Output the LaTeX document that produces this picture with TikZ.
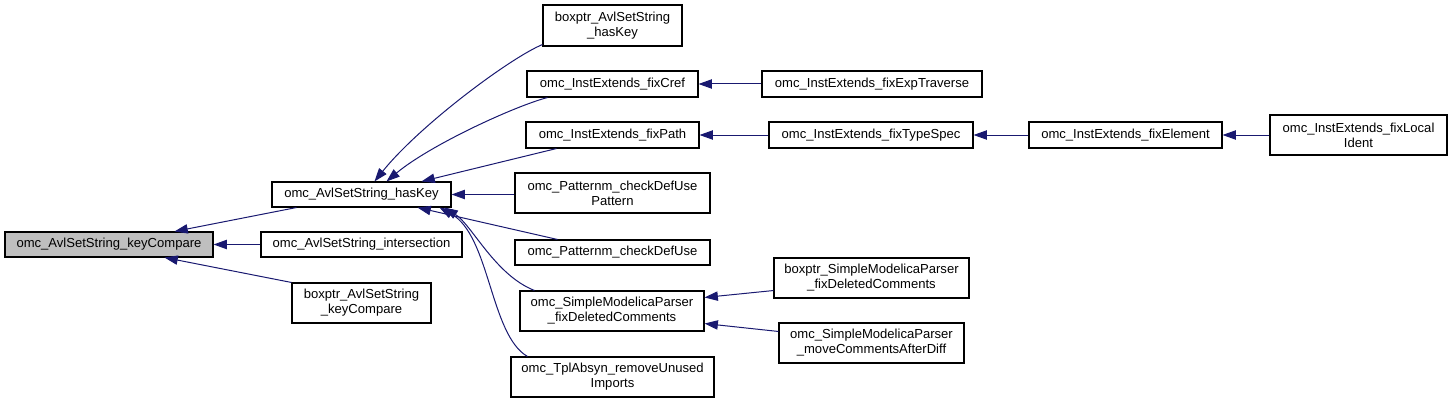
\documentclass[tikz,border=0pt]{standalone}
\usepackage{fontspec}
\setmainfont{Liberation Sans}
\usetikzlibrary{arrows.meta,calc}
\definecolor{edgeblue}{HTML}{191970}
\definecolor{selgray}{HTML}{BFBFBF}
\tikzset{
  x=0.75pt, y=-0.75pt,
  nd/.style={draw=black, line width=0.8pt, fill=white, inner sep=0pt, align=center,
    font=\fontsize{9.8}{11.25}\selectfont},
  wd/.style={minimum width=#1*0.75pt},
  ht/.style={minimum height=#1*0.75pt},
  sel/.style={fill=selgray},
  edge/.style={draw=edgeblue, line width=0.75pt,
    -{Triangle[length=10pt,width=7pt]}}
}
\begin{document}
\begin{tikzpicture}
\useasboundingbox (0,0) rectangle (1452,403);
% nodes
\node[nd,sel,wd=208,ht=25] (kc) at (109,244.5) {omc\_AvlSetString\_keyCompare};
\node[nd,wd=179,ht=25] (hk) at (361.5,194.5) {omc\_AvlSetString\_hasKey};
\node[nd,wd=201,ht=25] (int) at (361.5,244.5) {omc\_AvlSetString\_intersection};
\node[nd,wd=139,ht=40] (bkc) at (361.5,303) {boxptr\_AvlSetString\\\_keyCompare};
\node[nd,wd=139,ht=41] (bhk) at (612.5,25.5) {boxptr\_AvlSetString\\\_hasKey};
\node[nd,wd=171,ht=26] (fc) at (612.5,84) {omc\_InstExtends\_fixCref};
\node[nd,wd=173,ht=26] (fp) at (612.5,135) {omc\_InstExtends\_fixPath};
\node[nd,wd=195,ht=40] (cdup) at (612.5,193) {omc\_Patternm\_checkDefUse\\Pattern};
\node[nd,wd=195,ht=25] (cdu) at (612.5,252.5) {omc\_Patternm\_checkDefUse};
\node[nd,wd=184,ht=40] (smp) at (612,311) {omc\_SimpleModelicaParser\\\_fixDeletedComments};
\node[nd,wd=203,ht=40] (tpl) at (612.5,377) {omc\_TplAbsyn\_removeUnused\\Imports};
\node[nd,wd=220,ht=26] (fet) at (872,84) {omc\_InstExtends\_fixExpTraverse};
\node[nd,wd=204,ht=26] (fts) at (871,135) {omc\_InstExtends\_fixTypeSpec};
\node[nd,wd=195,ht=40] (bsmp) at (871.5,278) {boxptr\_SimpleModelicaParser\\\_fixDeletedComments};
\node[nd,wd=185,ht=40] (mca) at (871.5,343) {omc\_SimpleModelicaParser\\\_moveCommentsAfterDiff};
\node[nd,wd=193,ht=26] (fe) at (1125.5,135) {omc\_InstExtends\_fixElement};
\node[nd,wd=177,ht=40] (fli) at (1358.5,135) {omc\_InstExtends\_fixLocal\\Ident};
% edges
\draw[edge] ($(hk.south west)+(25,0)$) -- ($(kc.north west)+(170,0)$);
\draw[edge] (int.west) -- (kc.east);
\draw[edge] (bkc.north west) -- ($(kc.south west)+(160,0)$);
\draw[edge] ($(bhk.south west)+(0,-2)$) .. controls (510,58) and (420,125) .. ($(hk.north west)+(103,0)$);
\draw[edge] ($(fc.south west)+(21,0)$) .. controls (515,106) and (430,145) .. ($(hk.north west)+(115,0)$);
\draw[edge] ($(fp.south west)+(31,0)$) -- ($(hk.north west)+(150,0)$);
\draw[edge] (cdup.west |- hk.east) -- (hk.east);
\draw[edge] ($(cdu.north west)+(43,0)$) -- ($(hk.south west)+(146,0)$);
\draw[edge] ($(smp.north west)+(15,0)$) .. controls (495,275) and (472,225) .. ($(hk.south west)+(173,0)$);
\draw[edge] ($(tpl.north west)+(17,0)$) .. controls (490,335) and (490,235) .. ($(hk.south west)+(168,0)$);
\draw[edge] (fet.west) -- (fc.east);
\draw[edge] (fts.west) -- (fp.east);
\draw[edge] (fe.west) -- (fts.east);
\draw[edge] (fli.west) -- (fe.east);
\draw[edge] ($(bsmp.south west)+(0,-8)$) -- ($(smp.north east)+(0,7)$);
\draw[edge] ($(mca.north west)+(0,9)$) -- ($(smp.south east)+(0,-8)$);
\end{tikzpicture}
\end{document}
